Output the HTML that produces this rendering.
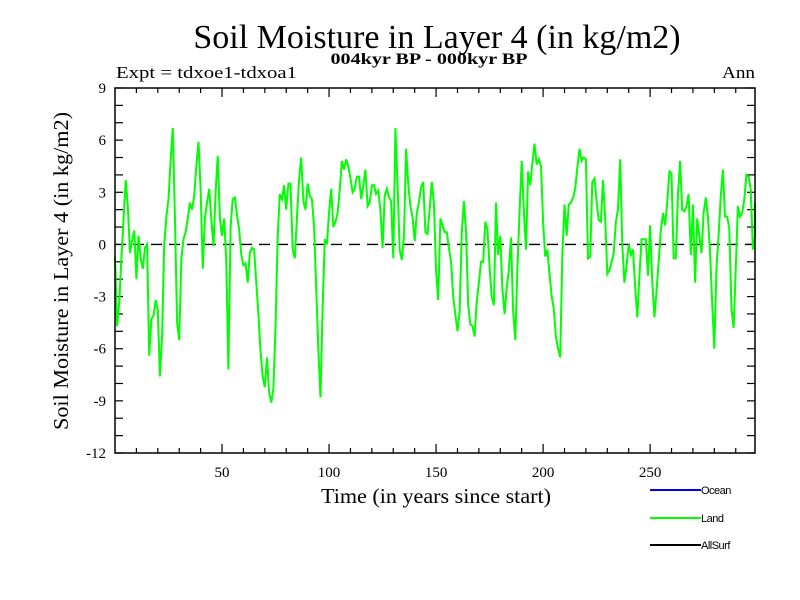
<!DOCTYPE html>
<html><head><meta charset="utf-8"><style>
html,body{margin:0;padding:0;background:#fff;}
svg{display:block;}
text{font-family:"Liberation Serif",serif;}
</style></head><body>
<svg id="chart" width="800" height="600" xmlns="http://www.w3.org/2000/svg">
<text x="437" y="48" font-size="34" text-anchor="middle">Soil Moisture in Layer 4 (in kg/m2)</text>
<text x="429" y="64" font-size="16" font-weight="bold" text-anchor="middle" textLength="197" lengthAdjust="spacingAndGlyphs">004kyr BP - 000kyr BP</text>
<text x="116" y="78" font-size="17" textLength="181" lengthAdjust="spacingAndGlyphs">Expt = tdxoe1-tdxoa1</text>
<text x="755" y="78" font-size="17" text-anchor="end" textLength="33" lengthAdjust="spacingAndGlyphs">Ann</text>
<text transform="translate(68,271) rotate(-90)" font-size="21" text-anchor="middle" textLength="318" lengthAdjust="spacingAndGlyphs">Soil Moisture in Layer 4 (in kg/m2)</text>
<text x="436" y="503" font-size="21" text-anchor="middle" textLength="230" lengthAdjust="spacingAndGlyphs">Time (in years since start)</text>
<g id="axes"></g>
<g id="series"></g>
<rect x="115" y="88" width="640" height="365" fill="none" stroke="#000" stroke-width="1.5"/>
<g>
 <line x1="650" y1="490" x2="701" y2="490" stroke="#0000ff" stroke-width="2"/>
 <text x="701" y="494" font-size="11" style="font-family:'Liberation Sans',sans-serif" letter-spacing="-0.5">Ocean</text>
 <line x1="650" y1="518" x2="701" y2="518" stroke="#00ff00" stroke-width="2"/>
 <text x="701" y="522" font-size="11" style="font-family:'Liberation Sans',sans-serif" letter-spacing="-0.5">Land</text>
 <line x1="650" y1="545" x2="701" y2="545" stroke="#000" stroke-width="2"/>
 <text x="701" y="549" font-size="11" style="font-family:'Liberation Sans',sans-serif" letter-spacing="-0.5">AllSurf</text>
</g>
</svg>
<script>
const yTickValues = [-12,-9,-6,-3,0,3,6,9];
const xTickValues = [50,100,150,200,250];
const landValues = [
-0.7,-4.7,-3.3,-0.8,1.5,3.7,2.2,-0.5,0.2,0.8,-2,0.5,-0.8,-1.4,-0.2,0,-6.4,-4.3,-4.1,-3.2,
-3.8,-7.6,-5.3,0,1.6,2.6,4.9,6.7,1.6,-4.5,-5.5,-0.8,0.3,0.7,1.5,2.4,2,2.8,4.5,5.9,
3.2,-1.4,1.5,2.4,3.2,1.5,-0.1,3,5.1,1.5,0.5,1.5,-1,-7.2,1,2.6,2.7,1.7,0.9,-0.6,
-1.2,-1.1,-2.2,-0.5,-0.2,-0.3,-2.2,-4,-6.2,-7.6,-8.2,-6.5,-8.5,-9.1,-8.3,-4.8,0.5,2.9,2.6,3.4,
2,3.5,3.5,-0.3,-0.8,1.5,3.8,5,2.5,2,3.5,2.8,2.6,1,-2.5,-6,-8.8,-3.7,0.3,0,
1.8,3.2,1,1.3,1.8,3.1,4.8,4.3,4.9,4.5,3.8,3,3.2,3.9,3.9,2.6,3.4,4.3,2.2,2.4,
3.4,3.4,2.9,3.1,2,-0.2,2.8,3.2,2.7,2.5,-0.8,6.7,3.5,-0.3,-0.9,0.5,5.5,3.5,2.2,1.6,
0.2,1.8,2.4,3.3,3.6,0.7,0.6,2,3.6,2.4,-1.5,-3.2,1.5,1.1,0.7,0.7,-0.2,-1,-3,-4,
-5,-3.9,0.7,2.5,0.8,-3.5,-4.6,-4.7,-5.3,-3.3,-2.2,-1,-1,1.3,0.9,-1.3,-3,-3.5,2.4,-0.6,
0.5,-2.6,-4,-2.5,-1.5,0.4,-3.8,-5.5,-1.4,1.8,4.8,2,-0.3,4.2,3.4,4.7,5.8,4.6,4.9,4.5,
1.3,-0.7,-0.3,-1.7,-3,-3.7,-5.3,-6,-6.5,-0.5,2.3,0.5,2.3,2.4,2.7,3.2,4.4,5.5,4.8,5,
4.9,-0.8,-0.7,3.6,3.8,2.5,1.4,1.3,3.7,1.5,-1.7,-1.5,-1,-0.5,1.3,2,4.9,0,-2.2,-1.2,
0,-0.6,-0.3,-2.4,-4.2,-1.8,0.3,0.3,0.3,-1.8,1.1,-2.2,-4.2,-2.7,-1,0.8,1.8,1.1,2.4,4.2,
4.1,-0.8,-0.8,2.8,4.8,2,1.9,2.2,2.9,-0.6,2.3,-2.2,1.5,0.5,-0.5,1.8,2.7,1.6,-0.5,-3.4,
-6,-1.3,0.5,2.8,4.3,1.6,1.6,0.9,-3.7,-4.8,-1.5,2.2,1.6,1.8,2.6,4,3.9,3.2,-0.3,0.5,2.4
];
const years = landValues.map((v,i)=>i);

const NS = "http://www.w3.org/2000/svg";
const X0=115, X1=755, Y0=88, Y1=453;
const xMin=0, xMax=299, yMin=-12, yMax=9;
function xScale(t){return X0+(t-xMin)/(xMax-xMin)*(X1-X0);}
function yScale(v){return Y1-(v-yMin)/(yMax-yMin)*(Y1-Y0);}
function mk(tag, attrs){const e=document.createElementNS(NS,tag);for(const k in attrs)e.setAttribute(k,attrs[k]);return e;}

const axes=document.getElementById('axes');
for(let v=yMin; v<=yMax; v++){
  const y=yScale(v);
  const tl=mk('line',{x1:X0,y1:y,x2:X0+8,y2:y,stroke:'#000','stroke-width':1.2});
  
  
  axes.appendChild(tl);
  const tr=mk('line',{x1:X1-8,y1:y,x2:X1,y2:y,stroke:'#000','stroke-width':1.2});
  
  
  axes.appendChild(tr);
}
yTickValues.forEach(v=>{
  const t=mk('text',{x:106,y:yScale(v)+5,'font-size':15,'text-anchor':'end'});
  t.textContent=String(v);
  
  
  axes.appendChild(t);
});
for(let t=10; t<=290; t+=10){
  const x=xScale(t);
  const len=(t%50===0)?9:5;
  const b=mk('line',{x1:x,y1:Y1,x2:x,y2:Y1-len,stroke:'#000','stroke-width':1.2});
  
  
  axes.appendChild(b);
  const tp=mk('line',{x1:x,y1:Y0,x2:x,y2:Y0+len,stroke:'#000','stroke-width':1.2});
  
  
  axes.appendChild(tp);
}
xTickValues.forEach(v=>{
  const t=mk('text',{x:xScale(v),y:477,'font-size':15,'text-anchor':'middle'});
  t.textContent=String(v);
  
  
  axes.appendChild(t);
});

const series=document.getElementById('series');
const zl=mk('line',{x1:X0,y1:yScale(0),x2:X1,y2:yScale(0),stroke:'#000','stroke-width':1.3,'stroke-dasharray':'11,7'});


series.appendChild(zl);
const pts=years.map((t,i)=>Math.min(xScale(t),X1).toFixed(1)+','+yScale(landValues[i]).toFixed(1)).join(' ');
const pl=mk('polyline',{points:pts,fill:'none',stroke:'#00ff00','stroke-width':2,'stroke-linejoin':'miter'});


series.appendChild(pl);
</script>
</body></html>
